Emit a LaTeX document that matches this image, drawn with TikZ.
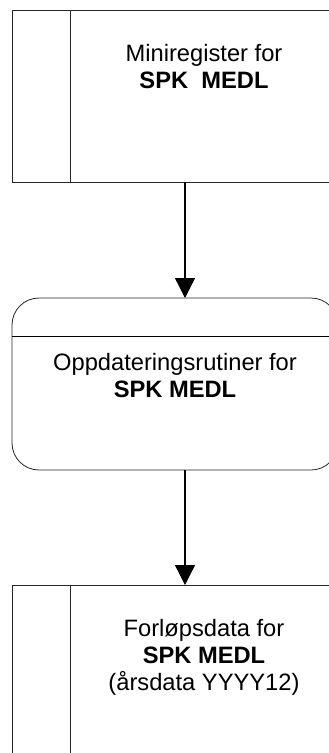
\documentclass[tikz,border=0pt]{standalone}
\usepackage{fontspec}
\setmainfont{Liberation Sans}
\usetikzlibrary{arrows.meta}
\begin{document}
\begin{tikzpicture}[x=1pt,y=-1pt,
  frame/.style={draw=black!85,line width=0.8pt,inner sep=0pt,outer sep=0pt,
    minimum width=326pt,minimum height=172pt,anchor=north west},
  storebox/.style={frame,rectangle},
  procbox/.style={frame,rectangle,rounded corners=27pt},
  label/.style={inner sep=0pt,anchor=north,align=center,
    font=\fontsize{23.7}{27.3}\selectfont},
  arr/.style={line width=1.3pt,-{Triangle[width=20pt,length=20pt]}}]
  \useasboundingbox[fill=white] (0,0) rectangle (329,753);

  % data store: Miniregister
  \node[storebox] (store1) at (12,10) {};
  \draw[draw=black!85,line width=0.8pt] (70,10) coordinate (d1a) -- (70,182) coordinate (d1b);
  \node[label] (t1) at (204,44) {Miniregister for\\\textbf{SPK\ \ MEDL}};

  % process: update routines
  \node[procbox] (proc) at (12,298) {};
  \draw[line width=0.8pt] (proc.west |- 0,336) coordinate (h1) -- (proc.east |- 0,336) coordinate (h2);
  \node[label] (t2) at (175,353) {Oppdateringsrutiner for\\\textbf{SPK MEDL}};

  % data store: Forløpsdata
  \node[storebox] (store2) at (12,585) {};
  \draw[draw=black!85,line width=0.8pt] (70,585) coordinate (d2a) -- (70,757) coordinate (d2b);
  \node[label] (t3) at (204,619) {Forløpsdata for\\\textbf{SPK MEDL}\\(årsdata YYYY12)};

  % flow arrows
  \coordinate (ax) at (185,0);
  \draw[arr] (store1.south -| ax) -- (proc.north -| ax);
  \draw[arr] (proc.south -| ax) -- (store2.north -| ax);
\end{tikzpicture}
\end{document}
